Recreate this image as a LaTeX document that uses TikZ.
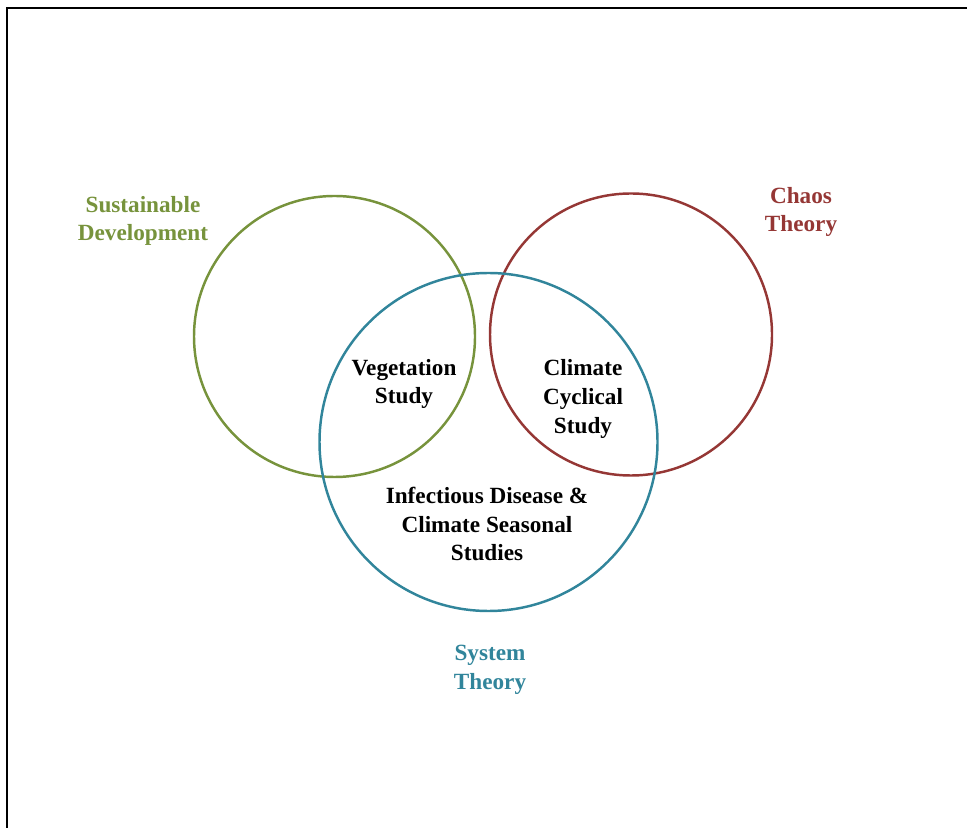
\documentclass[tikz,border=0pt]{standalone}
\usepackage{fontspec}
\setmainfont{Liberation Serif}
\definecolor{sdgreen}{RGB}{119,147,60}
\definecolor{chaosred}{RGB}{149,55,53}
\definecolor{systeal}{RGB}{49,133,155}
\begin{document}
\begin{tikzpicture}[x=0.01cm,y=-0.01cm,
  lbl/.style={font=\bfseries\fontsize{6.6}{8.2}\selectfont,align=center}]
\useasboundingbox (0,0) rectangle (967,828);
\draw[line width=0.6pt] (7,828) -- (7,8) -- (967,8);

\draw[sdgreen,line width=0.7pt] (334.5,336.5) circle[radius=140.5];
\draw[chaosred,line width=0.7pt] (631,334.5) circle[radius=141];
\draw[systeal,line width=0.7pt] (488.5,442) circle[radius=169];

\node[lbl,text=sdgreen] (sd) at (143,221) {Sustainable\\Development};
\node[lbl,text=chaosred] (chaos) at (801,212) {Chaos\\Theory};
\node[lbl,text=systeal] (sys) at (490,670) {System\\Theory};

\node[lbl] (veg) at (404,384) {Vegetation\\Study};
\node[lbl] (cyc) at (583,399) {Climate\\Cyclical\\Study};
\node[lbl] (inf) at (487,524) {Infectious Disease \&\\Climate Seasonal\\Studies};
\end{tikzpicture}
\end{document}
